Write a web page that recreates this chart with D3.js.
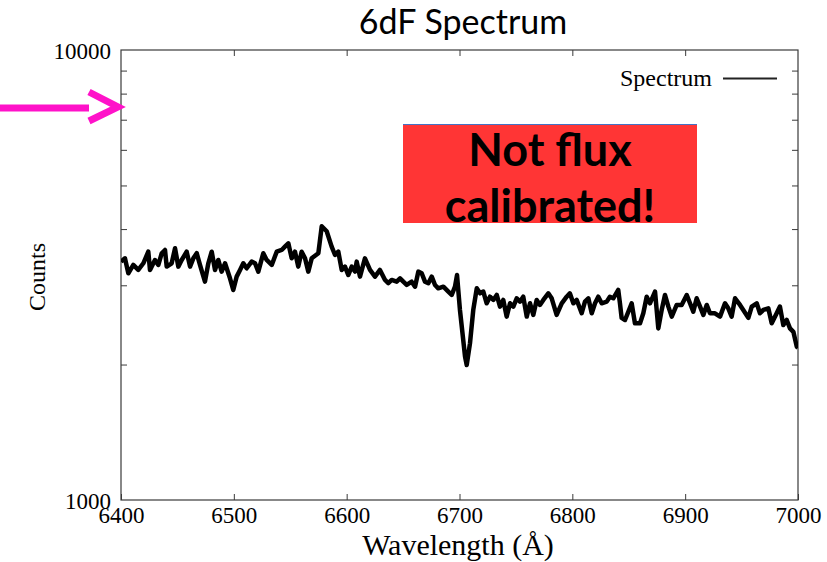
<!DOCTYPE html>
<html>
<head>
<meta charset="utf-8">
<script src="https://cdn.jsdelivr.net/npm/d3@7"></script>
<style>
  html, body { margin: 0; padding: 0; background: #fff; }
  svg { display: block; }
</style>
</head>
<body>
<svg id="chart" width="827" height="562"></svg>
<script>
// Spectrum samples: wavelength (Å) and counts
const wavelength = [
  6400.0, 6403.5, 6406.5, 6410.9, 6415.3, 6419.8, 6424.2, 6425.7, 6430.1, 6433.1,
  6436.1, 6439.0, 6440.5, 6444.9, 6447.9, 6450.8, 6453.8, 6458.2, 6461.2, 6464.1,
  6467.1, 6470.0, 6474.4, 6477.4, 6480.4, 6483.3, 6486.2, 6489.2, 6492.2, 6496.6,
  6499.5, 6502.5, 6505.5, 6508.4, 6511.4, 6515.8, 6518.8, 6521.7, 6526.1, 6529.1,
  6533.6, 6538.0, 6542.4, 6545.3, 6548.3, 6551.3, 6554.2, 6557.1, 6560.1, 6563.1,
  6566.0, 6569.0, 6574.9, 6577.9, 6582.3, 6586.7, 6589.7, 6592.6, 6595.6, 6598.5,
  6601.4, 6604.5, 6607.4, 6608.9, 6611.8, 6616.2, 6620.7, 6625.1, 6629.5, 6634.0,
  6636.9, 6639.9, 6644.3, 6647.3, 6650.2, 6653.2, 6657.6, 6660.6, 6663.5, 6666.5,
  6669.4, 6672.4, 6675.4, 6678.3, 6681.2, 6685.7, 6690.1, 6693.1, 6696.0, 6697.8,
  6700.4, 6704.9, 6706.4, 6709.3, 6712.2, 6715.3, 6718.2, 6721.1, 6724.1, 6727.0,
  6730.0, 6733.0, 6735.9, 6738.8, 6741.8, 6744.8, 6747.7, 6750.7, 6753.6, 6756.5,
  6759.6, 6762.5, 6765.4, 6768.4, 6771.3, 6774.3, 6778.7, 6781.7, 6786.1, 6790.6,
  6795.0, 6797.8, 6800.9, 6803.9, 6808.3, 6811.2, 6814.2, 6817.2, 6820.1, 6823.0,
  6826.0, 6830.5, 6833.3, 6836.3, 6840.7, 6842.2, 6843.7, 6846.7, 6852.6, 6855.5,
  6860.0, 6862.9, 6865.9, 6868.8, 6873.3, 6876.2, 6879.2, 6882.1, 6885.1, 6888.1,
  6892.5, 6896.9, 6901.4, 6904.3, 6907.2, 6910.2, 6913.2, 6916.1, 6919.1, 6922.0,
  6926.4, 6930.9, 6935.3, 6938.2, 6941.2, 6944.2, 6948.6, 6951.5, 6956.0, 6959.0,
  6963.4, 6966.3, 6969.3, 6973.7, 6976.7, 6981.1, 6984.0, 6987.0, 6990.0, 6992.9,
  6995.9, 6998.9, 7000.0
];
const counts = [
  3386, 3444, 3190, 3329, 3245, 3358, 3563, 3245, 3415, 3329,
  3535, 3594, 3301, 3358, 3625, 3301, 3415, 3563, 3301, 3444,
  3535, 3329, 3056, 3358, 3563, 3245, 3415, 3217, 3358, 3109,
  2929, 3136, 3245, 3358, 3273, 3386, 3358, 3217, 3535, 3415,
  3329, 3563, 3594, 3656, 3719, 3444, 3563, 3301, 3563, 3444,
  3217, 3444, 3535, 4058, 3956, 3656, 3503, 3563, 3245, 3301,
  3162, 3301, 3217, 3386, 3136, 3444, 3245, 3136, 3245, 3083,
  3032, 3083, 3056, 3109, 3056, 3005, 3056, 2979, 3217, 3190,
  3056, 3032, 3136, 3005, 2954, 2979, 2905, 2855, 2979, 3162,
  2645, 2083, 1995, 2230, 2645, 2954, 2879, 2905, 2736, 2830,
  2783, 2855, 2690, 2783, 2556, 2736, 2690, 2807, 2759, 2830,
  2556, 2736, 2578, 2783, 2713, 2783, 2879, 2807, 2578, 2736,
  2830, 2879, 2736, 2783, 2600, 2759, 2807, 2600, 2736, 2830,
  2736, 2759, 2830, 2807, 2929, 2736, 2539, 2512, 2736, 2470,
  2470, 2600, 2830, 2736, 2905, 2406, 2645, 2855, 2690, 2556,
  2713, 2713, 2855, 2736, 2622, 2807, 2690, 2578, 2713, 2600,
  2600, 2556, 2736, 2667, 2556, 2807, 2713, 2645, 2539, 2690,
  2736, 2600, 2645, 2667, 2470, 2600, 2690, 2448, 2512, 2406,
  2364, 2193, 2176
];
const xTicks = [6400, 6500, 6600, 6700, 6800, 6900, 7000];
const yMajorTicks = [1000, 10000];
const yMinorTicks = [2000, 3000, 4000, 5000, 6000, 7000, 8000, 9000];
const titleText = "6dF Spectrum";
const xLabel = "Wavelength (Å)";
const yLabel = "Counts";
const seriesName = "Spectrum";
const noteLines = ["Not flux", "calibrated!"];

const svg = d3.select("#chart");
const plot = { left: 121, right: 798, top: 50, bottom: 500 };

const x = d3.scaleLinear().domain([6400, 7000]).range([plot.left, plot.right]);
const y = d3.scaleLog().domain([1000, 10000]).range([plot.bottom, plot.top]);

const serif = "'Liberation Serif', 'Times New Roman', serif";
const sans = "Lato, 'Open Sans', sans-serif";
const frameColor = "#3a3a3a";
const tickSize = 23;
const labelSize = 24;

// Title
svg.append("text")
  .attr("x", 463).attr("y", 34)
  .attr("text-anchor", "middle")
  .attr("font-family", sans).attr("font-size", 34)
  .attr("fill", "#000")
  .text(titleText);

// Bottom axis with labels, top axis mirrored with ticks only
const tickLen = 6;
const bottomAxis = d3.axisBottom(x).tickValues(xTicks).tickSizeInner(-tickLen).tickSizeOuter(0).tickFormat(d3.format("d"));
const gb = svg.append("g").attr("transform", `translate(0,${plot.bottom})`).call(bottomAxis);
gb.attr("font-family", null).attr("font-size", null);
gb.select(".domain").remove();
gb.selectAll(".tick line").attr("stroke", frameColor);
gb.selectAll(".tick text")
  .attr("y", 23).attr("dy", null)
  .attr("font-family", serif).attr("font-size", tickSize).attr("fill", "#000");

const topAxis = d3.axisTop(x).tickValues(xTicks.slice(1, -1)).tickSizeInner(-tickLen).tickSizeOuter(0).tickFormat("");
const gt = svg.append("g").attr("transform", `translate(0,${plot.top})`).call(topAxis);
gt.select(".domain").remove();
gt.selectAll(".tick line").attr("stroke", frameColor);

// Left axis: major labels and minor ticks; right axis mirrored
const leftAxis = d3.axisLeft(y).tickValues(yMinorTicks).tickSizeInner(-tickLen).tickSizeOuter(0).tickFormat("");
const gl = svg.append("g").attr("transform", `translate(${plot.left},0)`).call(leftAxis);
gl.select(".domain").remove();
gl.selectAll(".tick line").attr("stroke", frameColor);

const rightAxis = d3.axisRight(y).tickValues(yMinorTicks).tickSizeInner(-tickLen).tickSizeOuter(0).tickFormat("");
const gr = svg.append("g").attr("transform", `translate(${plot.right},0)`).call(rightAxis);
gr.select(".domain").remove();
gr.selectAll(".tick line").attr("stroke", frameColor);

svg.append("g").selectAll("text").data(yMajorTicks).join("text")
  .attr("x", plot.left - 10)
  .attr("y", d => y(d) + 9)
  .attr("text-anchor", "end")
  .attr("font-family", serif).attr("font-size", tickSize)
  .attr("fill", "#000")
  .text(d => d);

// Plot frame
svg.append("rect")
  .attr("x", plot.left).attr("y", plot.top)
  .attr("width", plot.right - plot.left).attr("height", plot.bottom - plot.top)
  .attr("fill", "none").attr("stroke", frameColor).attr("stroke-width", 1.2);

// Axis titles
svg.append("text")
  .attr("x", 458).attr("y", 555)
  .attr("text-anchor", "middle")
  .attr("font-family", serif).attr("font-size", 30)
  .attr("fill", "#000")
  .text(xLabel);

svg.append("text")
  .attr("transform", "translate(45,277) rotate(-90)")
  .attr("text-anchor", "middle")
  .attr("font-family", serif).attr("font-size", labelSize)
  .attr("fill", "#000")
  .text(yLabel);

// Spectrum line
const data = wavelength.map((w, i) => ({ w, c: counts[i] }));
svg.append("clipPath").attr("id", "plotClip")
  .append("rect")
  .attr("x", plot.left).attr("y", plot.top)
  .attr("width", plot.right - plot.left).attr("height", plot.bottom - plot.top);

svg.append("path")
  .datum(data)
  .attr("clip-path", "url(#plotClip)")
  .attr("fill", "none")
  .attr("stroke", "#000")
  .attr("stroke-width", 4.5)
  .attr("stroke-linejoin", "round")
  .attr("d", d3.line().x(d => x(d.w)).y(d => y(d.c)));

// Legend
svg.append("text")
  .attr("x", 712).attr("y", 86)
  .attr("text-anchor", "end")
  .attr("font-family", serif).attr("font-size", labelSize)
  .attr("fill", "#000")
  .text(seriesName);
svg.append("line")
  .attr("x1", 723).attr("x2", 777)
  .attr("y1", 78.5).attr("y2", 78.5)
  .attr("stroke", "#222").attr("stroke-width", 2.2);

// Annotation box
const note = svg.append("g");
note.append("rect")
  .attr("x", 403).attr("y", 124)
  .attr("width", 294).attr("height", 99)
  .attr("fill", "#ff3535");
note.append("line")
  .attr("x1", 403).attr("x2", 697)
  .attr("y1", 124.5).attr("y2", 124.5)
  .attr("stroke", "#4472c4").attr("stroke-width", 1.2);
note.selectAll("text").data(noteLines).join("text")
  .attr("x", 550)
  .attr("y", (d, i) => 166 + i * 56)
  .attr("text-anchor", "middle")
  .attr("font-family", sans).attr("font-weight", "bold").attr("font-size", 45)
  .attr("fill", "#000")
  .text(d => d);

// Pointer arrow at the top of the counts axis
const arrowColor = "#ff12c9";
svg.append("line")
  .attr("x1", 0).attr("x2", 89)
  .attr("y1", 108).attr("y2", 108)
  .attr("stroke", arrowColor).attr("stroke-width", 7);
svg.append("path")
  .attr("d", "M89,92 L118,107 L89,121")
  .attr("fill", "none")
  .attr("stroke", arrowColor).attr("stroke-width", 7)
  .attr("stroke-linejoin", "miter");
</script>
</body>
</html>
